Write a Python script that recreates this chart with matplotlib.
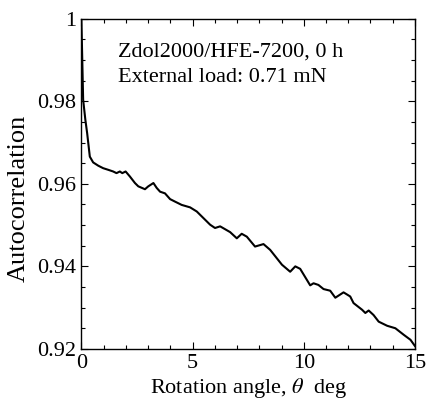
import numpy as np
import matplotlib
matplotlib.use('Agg')
import matplotlib.pyplot as plt
from matplotlib.ticker import MultipleLocator

plt.rcParams['font.family'] = ['Liberation Serif', 'DejaVu Serif']
plt.rcParams['mathtext.fontset'] = 'stix'

# values
angle = [0.0, 0.08, 0.18, 0.26, 0.38, 0.53, 0.76, 0.98, 1.21, 1.43, 1.58,
         1.73, 1.84, 1.99, 2.18, 2.41, 2.56, 2.86, 3.01, 3.24, 3.39, 3.54,
         3.76, 3.99, 4.21, 4.51, 4.89, 5.19, 5.49, 5.79, 6.01, 6.24, 6.69,
         6.99, 7.21, 7.44, 7.81, 8.19, 8.49, 9.02, 9.39, 9.62, 9.84, 10.29,
         10.44, 10.66, 10.89, 11.19, 11.42, 11.79, 12.09, 12.24, 12.62,
         12.77, 12.92, 13.14, 13.37, 13.75, 14.12, 14.50, 14.80, 15.0]
autocorr = [1.0, 0.9804, 0.9755, 0.9723, 0.9666, 0.9652, 0.9644, 0.9638,
            0.9634, 0.9630, 0.9626, 0.9630, 0.9626, 0.9630, 0.9618, 0.9602,
            0.9594, 0.9587, 0.9594, 0.9602, 0.9590, 0.9581, 0.9577, 0.9563,
            0.9557, 0.9549, 0.9543, 0.9533, 0.9517, 0.9501, 0.9493, 0.9497,
            0.9483, 0.9468, 0.9479, 0.9472, 0.9448, 0.9454, 0.9440, 0.9404,
            0.9387, 0.9400, 0.9394, 0.9354, 0.9359, 0.9355, 0.9345, 0.9341,
            0.9324, 0.9337, 0.9327, 0.9311, 0.9295, 0.9287, 0.9293, 0.9282,
            0.9266, 0.9256, 0.9250, 0.9234, 0.9222, 0.9207]

yticks = [0.92, 0.94, 0.96, 0.98, 1.0]
ytick_labels = ['0.92', '0.94', '0.96', '0.98', '1']
note_lines = ['Zdol2000/HFE-7200, 0 h', 'External load: 0.71 mN']

fig = plt.figure(figsize=(4.26, 4.01), dpi=100)
ax = fig.add_axes([0.191, 0.130, 0.783, 0.823])

ax.plot(angle, autocorr, color='black', linewidth=1.5)

ax.set_xlim(0, 15)
ax.set_ylim(0.92, 1.0)
ax.xaxis.set_major_locator(MultipleLocator(5))
ax.xaxis.set_minor_locator(MultipleLocator(1))
ax.set_yticks(yticks)
ax.set_yticklabels(ytick_labels)
ax.yaxis.set_minor_locator(MultipleLocator(0.005))
ax.tick_params(which='both', direction='in', top=True, right=True,
               labelsize=16, width=0.8)
ax.tick_params(which='major', length=5, pad=3.5)
ax.tick_params(which='minor', length=3)
for s in ax.spines.values():
    s.set_linewidth(1.0)

ax.set_xlabel(r'Rotation angle, $\theta$  deg', fontsize=16, labelpad=2)
ax.set_ylabel('Autocorrelation', fontsize=19)
ax.yaxis.set_label_coords(-0.155, 0.455)

ax.text(0.11, 0.885, note_lines[0], transform=ax.transAxes,
        fontsize=16, va='baseline', ha='left')
ax.text(0.11, 0.809, note_lines[1], transform=ax.transAxes,
        fontsize=16, va='baseline', ha='left')

fig.savefig('out.png', dpi=100)
